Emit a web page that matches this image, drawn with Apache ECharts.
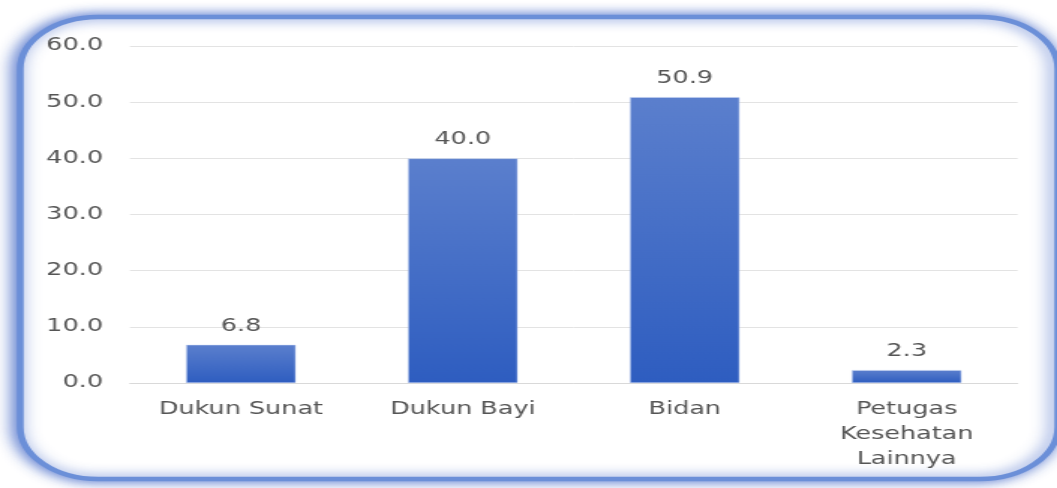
<!DOCTYPE html>
<html>
<head>
<meta charset="utf-8">
<script src="https://cdn.jsdelivr.net/npm/echarts@6/dist/echarts.min.js"></script>
<style>
  html, body { margin: 0; padding: 0; background: #ffffff; overflow: hidden; }
  #wrap { width: 1057px; height: 488px; overflow: hidden; }
  /* the chart is laid out narrow and widened, giving the broad lettering */
  #chart { width: 705px; height: 488px; transform: scaleX(1.4993); transform-origin: 0 0; }
</style>
</head>
<body>
<div id="wrap"><div id="chart"></div></div>
<script>
const categories = ['Dukun Sunat', 'Dukun Bayi', 'Bidan', 'Petugas\nKesehatan\nLainnya'];
const values = [6.8, 40.0, 50.9, 2.3];
const yTicks = { min: 0, max: 60, interval: 10 };

const textColor = '#555555';
const font = 'DejaVu Sans';

const chart = echarts.init(document.getElementById('chart'), null, { renderer: 'canvas' });
chart.setOption({
  animation: false,
  backgroundColor: '#ffffff',
  graphic: [{
    type: 'rect',
    z: -10,
    shape: { x: 13.5, y: 17, width: 692, height: 462, r: 52 },
    style: {
      fill: '#ffffff',
      stroke: '#6b8fd8',
      lineWidth: 4.5,
      shadowBlur: 12,
      shadowOffsetX: -2,
      shadowColor: 'rgba(50,90,195,0.85)'
    }
  }],
  grid: { left: 86.7, right: 26.3, top: 46, bottom: 105, containLabel: false },
  xAxis: {
    type: 'category',
    data: categories,
    axisTick: { show: false },
    axisLine: { show: true, lineStyle: { color: '#d9d9d9', width: 1 } },
    axisLabel: {
      color: textColor, fontFamily: font, fontSize: 17,
      lineHeight: 25, margin: 14, interval: 0
    }
  },
  yAxis: {
    type: 'value',
    min: yTicks.min, max: yTicks.max, interval: yTicks.interval,
    axisLine: { show: false },
    axisTick: { show: false },
    splitLine: { lineStyle: { color: '#e3e3e3', width: 1 } },
    axisLabel: {
      color: textColor, fontFamily: font, fontSize: 17, margin: 18,
      formatter: v => v.toFixed(1)
    }
  },
  series: [{
    type: 'bar',
    data: values,
    barWidth: '49.5%',
    itemStyle: {
      color: new echarts.graphic.LinearGradient(0, 0, 0, 1, [
        { offset: 0, color: '#5b7fcd' },
        { offset: 1, color: '#2e5dc0' }
      ]),
      borderColor: 'rgba(200,215,245,0.8)',
      borderWidth: 0.6
    },
    label: {
      show: true, position: 'top', distance: 10,
      color: textColor, fontFamily: font, fontSize: 17,
      formatter: p => p.value.toFixed(1)
    }
  }]
});
</script>
</body>
</html>
